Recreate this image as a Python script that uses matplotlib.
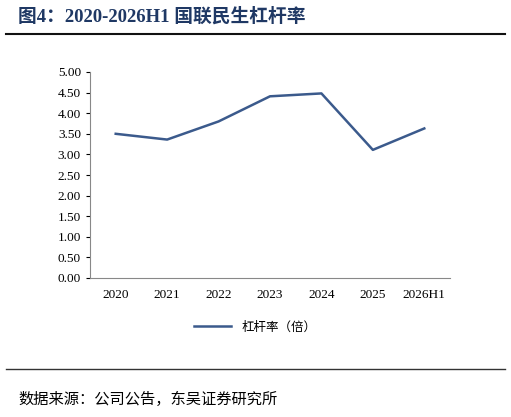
import matplotlib
matplotlib.use("Agg")
import matplotlib.pyplot as plt
from matplotlib.lines import Line2D

plt.rcParams['font.family'] = ['Liberation Serif', 'Noto Sans CJK SC', 'DejaVu Sans']

years = ["2020", "2021", "2022", "2023", "2024", "2025", "2026H1"]
leverage = [3.50, 3.36, 3.80, 4.41, 4.48, 3.11, 3.63]
yticks = [0.0, 0.5, 1.0, 1.5, 2.0, 2.5, 3.0, 3.5, 4.0, 4.5, 5.0]

W, H = 511, 417
fig = plt.figure(figsize=(W/100, H/100), dpi=100)
ax = fig.add_axes([90/W, 1-278/H, 360/W, 206/H])
ax.plot(range(len(years)), leverage, color='#3B5A8C', lw=1.8)
ax.set_xlim(-0.5, len(years)-0.5)
ax.set_ylim(0, 5)
ax.set_yticks(yticks)
ax.set_yticklabels([f"{v:.2f}" for v in yticks], fontsize=9.5)
ax.set_xticks(range(len(years)))
ax.set_xticklabels(years, fontsize=9.5)
ax.tick_params(axis='x', length=0, pad=8)
ax.tick_params(axis='y', length=3, direction='out')
for s in ['top', 'right']:
    ax.spines[s].set_visible(False)
for s in ['left', 'bottom']:
    ax.spines[s].set_color('#888888')

fig.legend(handles=[Line2D([], [], color='#3B5A8C', lw=1.8)], labels=['杠杆率（倍）'],
           loc='center', bbox_to_anchor=(255/W, 1-327/H), frameon=False,
           prop={'family': ['Noto Sans CJK SC'], 'size': 9}, handlelength=3)

fig.text(18/W, 1-16/H, "图4：2020-2026H1 国联民生杠杆率", fontsize=13.5, fontweight='bold',
         color='#1F3864', va='center', family=['Liberation Serif', 'Noto Sans CJK SC'])
fig.add_artist(Line2D([6/W, 505/W], [1-34/H, 1-34/H], color='#111111', lw=1.5))
fig.add_artist(Line2D([6/W, 505/W], [1-369/H, 1-369/H], color='#333333', lw=1))
fig.text(18/W, 1-399/H, "数据来源：公司公告，东吴证券研究所", fontsize=11,
         va='center', family=['Noto Sans CJK SC'])
fig.savefig("out.png", dpi=100)
